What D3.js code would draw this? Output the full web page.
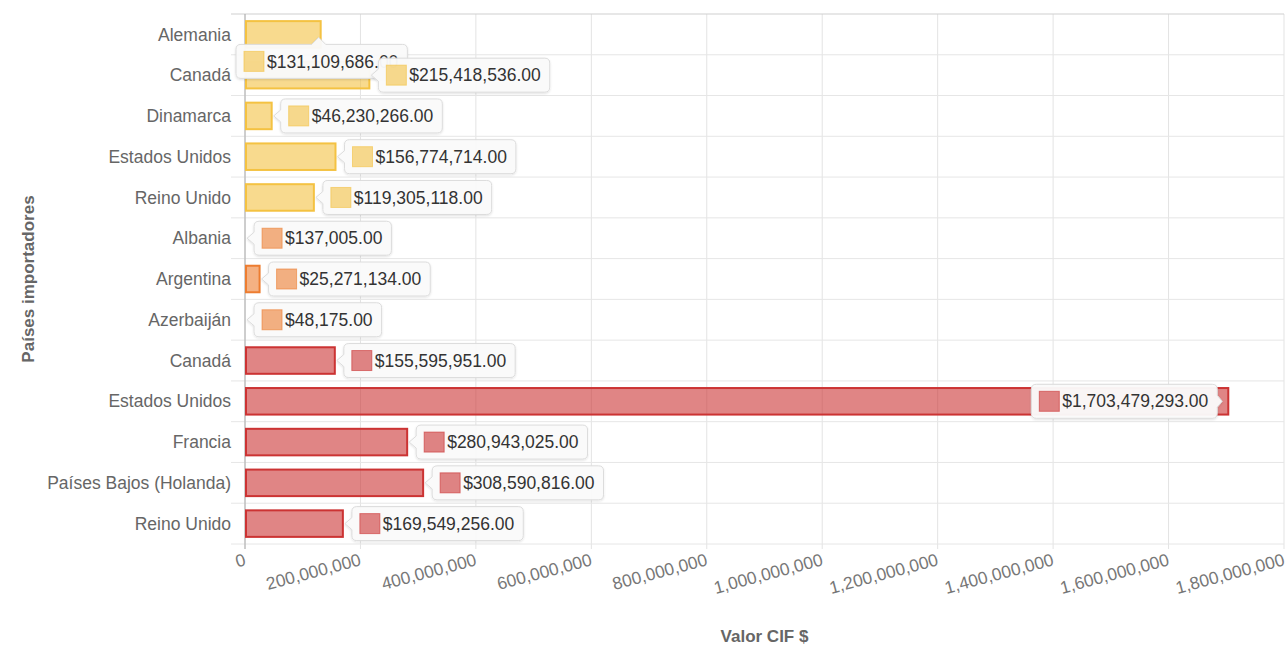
<!DOCTYPE html>
<html>
<head>
<meta charset="utf-8">
<script src="https://cdn.jsdelivr.net/npm/d3@7"></script>
<style>
  body { margin: 0; background: #fff; font-family: "Liberation Sans", Arial, sans-serif; }
  svg { display: block; }
</style>
</head>
<body>
<svg id="chart"></svg>
<script>
// series, one per colour group
const paisesA = ["Alemania", "Canadá", "Dinamarca", "Estados Unidos", "Reino Unido"];
const valoresA = [131109686, 215418536, 46230266, 156774714, 119305118];
const paisesB = ["Albania", "Argentina", "Azerbaiján"];
const valoresB = [137005, 25271134, 48175];
const paisesC = ["Canadá", "Estados Unidos", "Francia", "Países Bajos (Holanda)", "Reino Unido"];
const valoresC = [155595951, 1703479293, 280943025, 308590816, 169549256];
const xTicks = [0, 200000000, 400000000, 600000000, 800000000, 1000000000, 1200000000, 1400000000, 1600000000, 1800000000];

const colores = [
    { stroke: "rgb(244,194,66)", fill: "rgba(244,194,66,0.6)" },
    { stroke: "rgb(237,125,49)", fill: "rgba(237,125,49,0.6)" },
    { stroke: "rgb(204,51,51)", fill: "rgba(204,51,51,0.6)" }
];

const rows = [];
[[paisesA, valoresA], [paisesB, valoresB], [paisesC, valoresC]].forEach(([p, v], g) => {
    p.forEach((name, i) => rows.push({ name: name, value: v[i], group: g }));
});

const W = 1287, H = 646;
const m = { top: 14, right: 3, bottom: 102, left: 245 };
const w = W - m.left - m.right, h = H - m.top - m.bottom;
const fs = 17.5;

const svg = d3.select("#chart").attr("width", W).attr("height", H);

const defs = svg.append("defs");
const sh = defs.append("filter").attr("id", "shadow").attr("x", "-10%").attr("y", "-20%").attr("width", "120%").attr("height", "150%");
sh.append("feDropShadow").attr("dx", 0).attr("dy", 1).attr("stdDeviation", 1.2).attr("flood-color", "#000").attr("flood-opacity", 0.12);

const g = svg.append("g").attr("transform", `translate(${m.left},${m.top})`);

const x = d3.scaleLinear().domain([0, 1800000000]).range([0, w]);
const y = d3.scaleBand().domain(d3.range(rows.length)).range([0, h]).paddingInner(0.3).paddingOuter(0.15);
const step = y.step();

// vertical gridlines
g.append("g")
    .selectAll("line")
    .data(xTicks)
    .join("line")
    .attr("x1", d => x(d)).attr("x2", d => x(d))
    .attr("y1", 0).attr("y2", h + 5)
    .attr("stroke", "#e3e3e3");

// horizontal gridlines at row boundaries
g.append("g")
    .selectAll("line")
    .data(d3.range(rows.length + 1))
    .join("line")
    .attr("x1", -14).attr("x2", w)
    .attr("y1", d => d * step).attr("y2", d => d * step)
    .attr("stroke", d => d === 0 ? "#cfcfcf" : "#e6e6e6");

// y axis line
g.append("line").attr("x1", 0).attr("x2", 0).attr("y1", 0).attr("y2", h + 5).attr("stroke", "#aaa");

// y labels
g.append("g")
    .selectAll("text")
    .data(rows)
    .join("text")
    .attr("x", -14)
    .attr("y", (d, i) => y(i) + y.bandwidth() / 2)
    .attr("dy", "0.35em")
    .attr("text-anchor", "end")
    .attr("fill", "#666")
    .attr("font-size", fs)
    .text(d => d.name);

// x tick labels
g.append("g")
    .selectAll("text")
    .data(xTicks)
    .join("text")
    .attr("transform", d => `translate(${x(d)},${h + 15}) rotate(-15)`)
    .attr("dy", "0.35em")
    .attr("text-anchor", "end")
    .attr("fill", "#777")
    .attr("font-size", fs)
    .text(d => d3.format(",")(d));

// axis titles
svg.append("text")
    .attr("x", m.left + w / 2).attr("y", 642)
    .attr("text-anchor", "middle")
    .attr("font-weight", "bold").attr("font-size", 17).attr("fill", "#666")
    .text("Valor CIF $");

svg.append("text")
    .attr("transform", `translate(34,${m.top + h / 2}) rotate(-90)`)
    .attr("text-anchor", "middle")
    .attr("font-weight", "bold").attr("font-size", 17).attr("fill", "#666")
    .text("Países importadores");

// bars
g.append("g")
    .selectAll("rect")
    .data(rows)
    .join("rect")
    .attr("x", 1)
    .attr("y", (d, i) => y(i) + 1)
    .attr("width", d => Math.max(0, x(d.value) - 1))
    .attr("height", y.bandwidth() - 2)
    .attr("fill", d => colores[d.group].fill)
    .attr("stroke", d => d.value > 1000000 ? colores[d.group].stroke : "none")
    .attr("stroke-width", 2);

// value labels (tooltip-style boxes)
const fmt = v => "$" + d3.format(",.2f")(v);
const boxH = 34, r = 5;
const labels = g.append("g");

rows.forEach((d, i) => {
    const end = x(d.value);
    const cy = y(i) + y.bandwidth() / 2;
    const lg = labels.append("g");
    const txt = lg.append("text")
        .attr("font-size", fs).attr("fill", "#333")
        .attr("dy", "0.35em")
        .text(fmt(d.value));
    const tw = txt.node().getComputedTextLength();
    const bw = 8 + 20 + 3 + tw + 9;

    let bx, by, path;
    if (i === 0) {
        // first label drops below the bar end, arrow up
        bx = end - bw / 2 + 1; by = cy + 10;
        const ax = end - 2;
        path = `M${bx + r},${by} H${ax - 7} L${ax},${by - 7} L${ax + 7},${by} H${bx + bw - r} Q${bx + bw},${by} ${bx + bw},${by + r}
            V${by + boxH - r} Q${bx + bw},${by + boxH} ${bx + bw - r},${by + boxH} H${bx + r} Q${bx},${by + boxH} ${bx},${by + boxH - r}
            V${by + r} Q${bx},${by} ${bx + r},${by} Z`;
    } else if (end + 9 + bw > w) {
        // no room on the right: sits inside the bar, arrow to the right
        bx = end - 11 - bw; by = cy - boxH / 2;
        path = `M${bx + r},${by} H${bx + bw - r} Q${bx + bw},${by} ${bx + bw},${by + r} V${cy - 6} L${bx + bw + 5},${cy} L${bx + bw},${cy + 6}
            V${by + boxH - r} Q${bx + bw},${by + boxH} ${bx + bw - r},${by + boxH} H${bx + r} Q${bx},${by + boxH} ${bx},${by + boxH - r}
            V${by + r} Q${bx},${by} ${bx + r},${by} Z`;
    } else {
        bx = end + 9; by = cy - boxH / 2;
        path = `M${bx + r},${by} H${bx + bw - r} Q${bx + bw},${by} ${bx + bw},${by + r}
            V${by + boxH - r} Q${bx + bw},${by + boxH} ${bx + bw - r},${by + boxH} H${bx + r} Q${bx},${by + boxH} ${bx},${by + boxH - r}
            V${cy + 6} L${bx - 7},${cy} L${bx},${cy - 6} V${by + r} Q${bx},${by} ${bx + r},${by} Z`;
    }

    lg.insert("path", "text")
        .attr("d", path)
        .attr("fill", "rgba(250,250,250,0.96)")
        .attr("stroke", "#dcdcdc")
        .attr("filter", "url(#shadow)");
    lg.insert("rect", "text")
        .attr("x", bx + 8).attr("y", by + boxH / 2 - 10)
        .attr("width", 20).attr("height", 20)
        .attr("fill", colores[d.group].fill)
        .attr("stroke", colores[d.group].fill)
        .attr("stroke-width", 1);
    txt.attr("x", bx + 8 + 20 + 3).attr("y", by + boxH / 2);
});
</script>
</body>
</html>
